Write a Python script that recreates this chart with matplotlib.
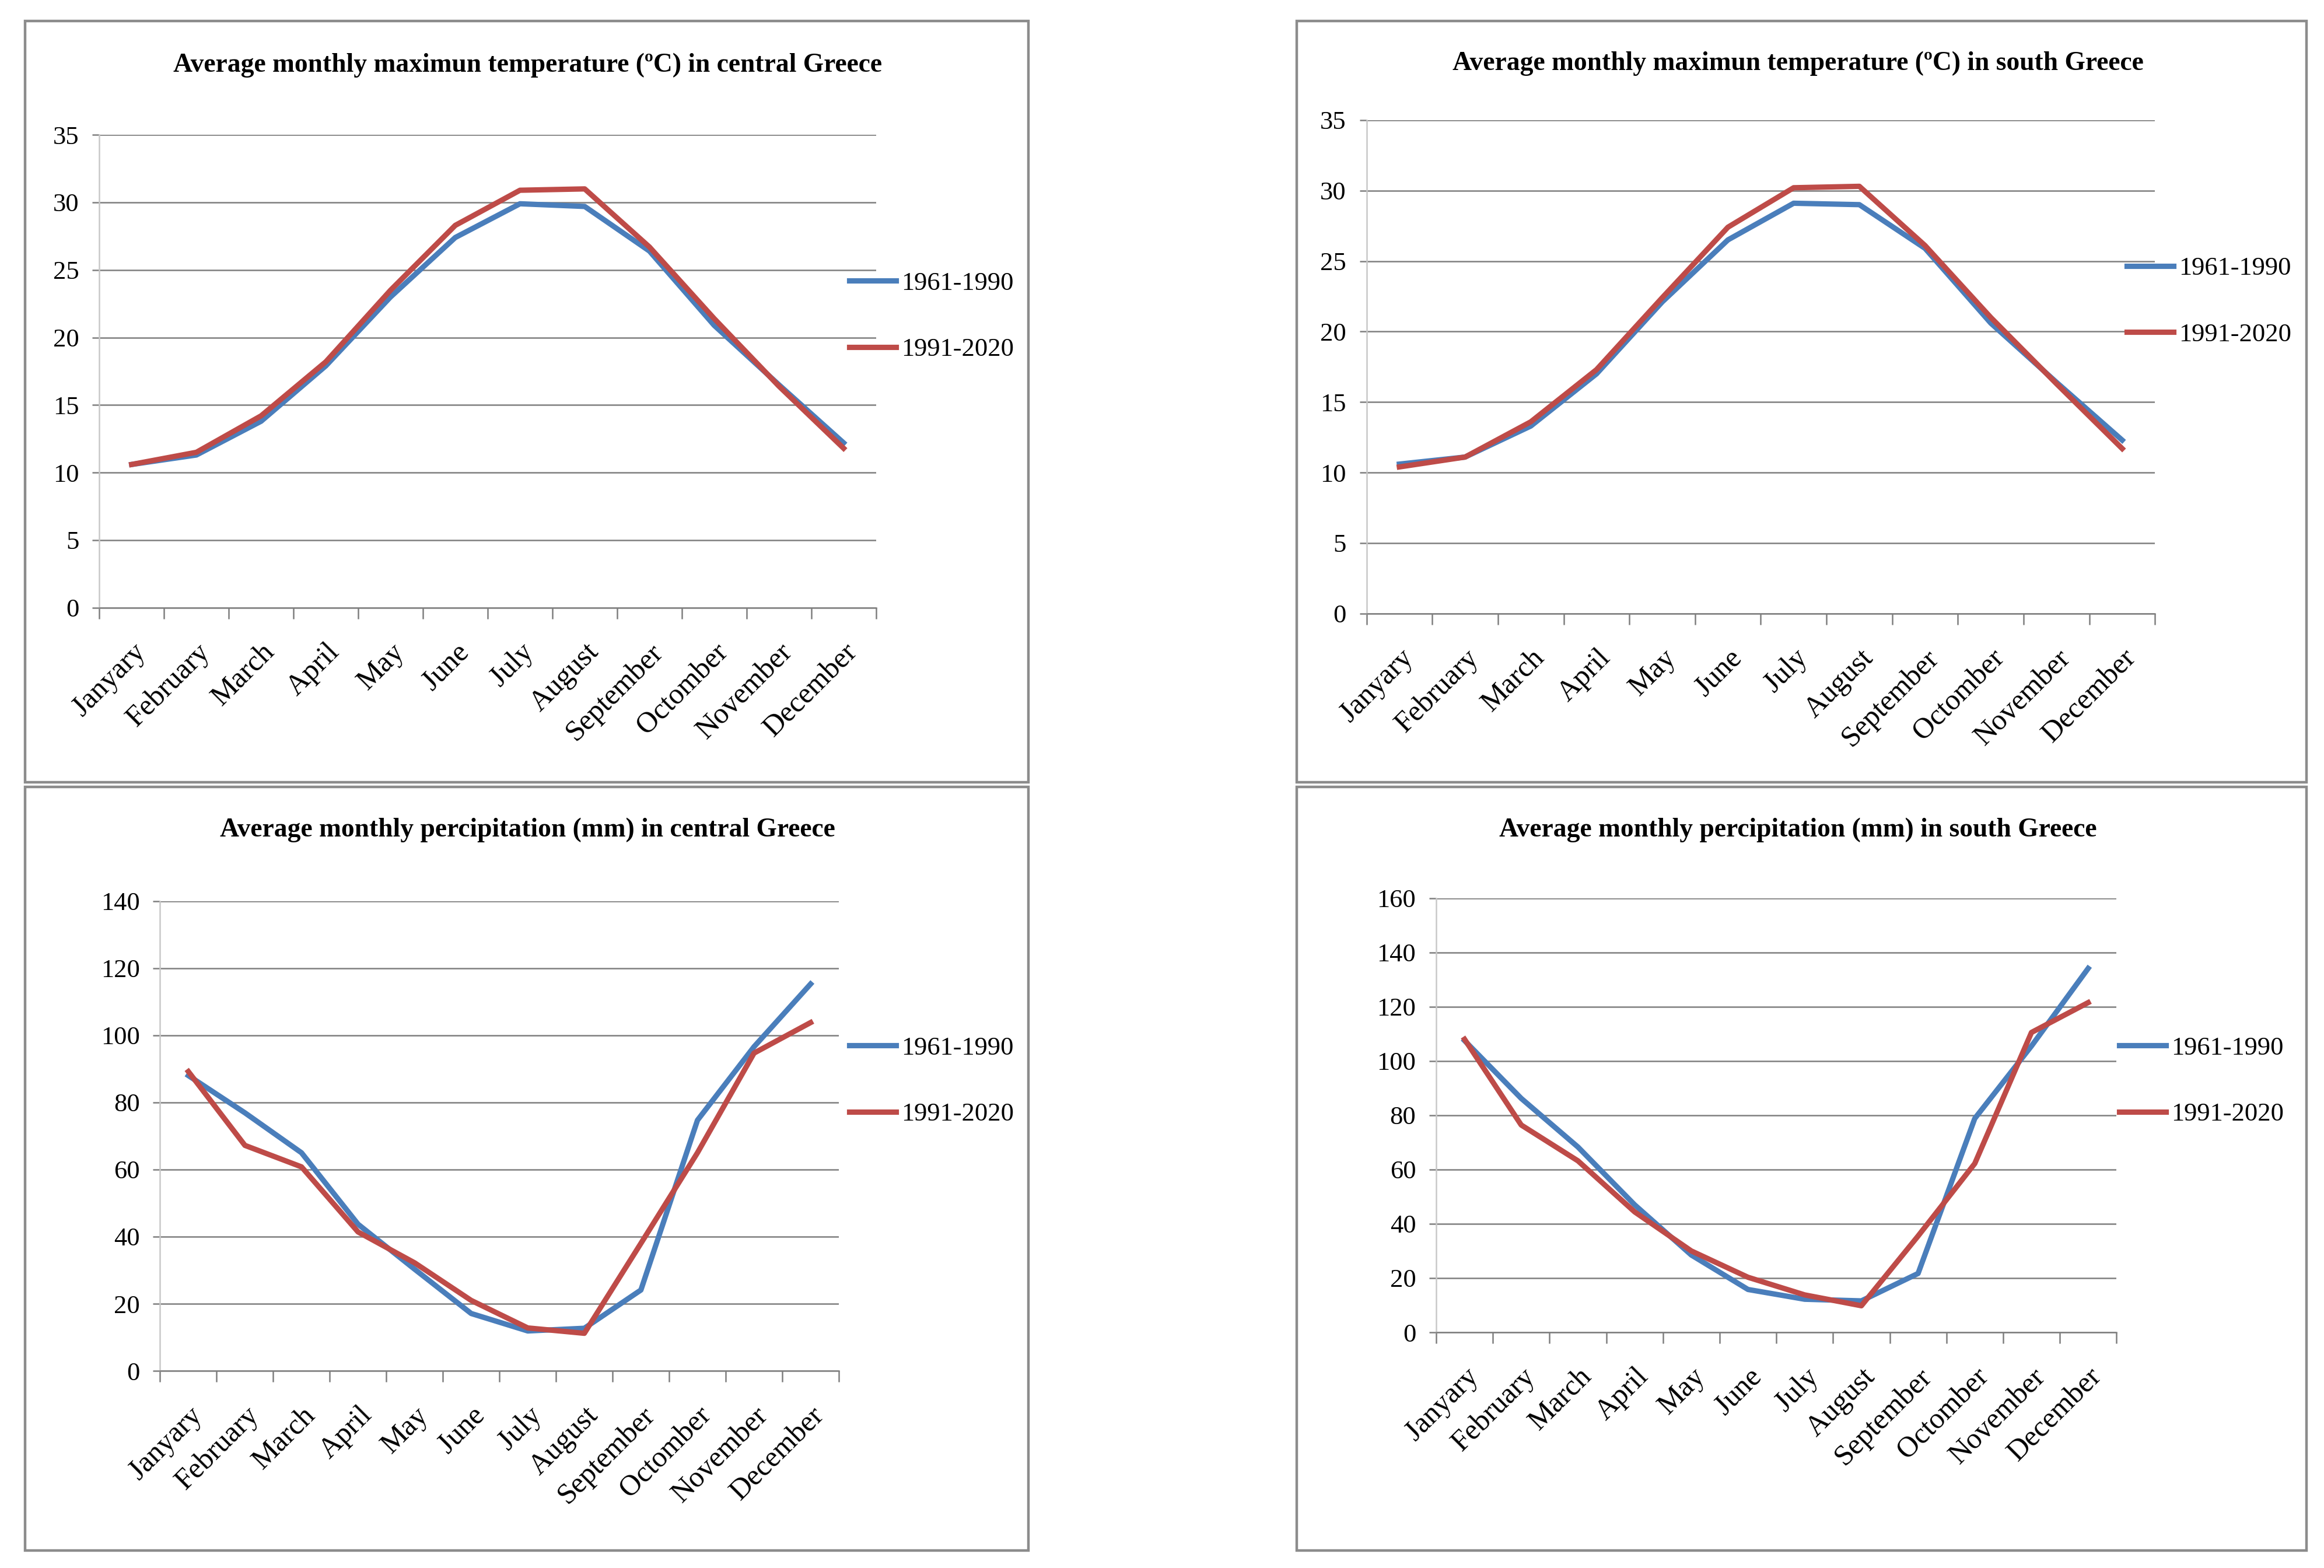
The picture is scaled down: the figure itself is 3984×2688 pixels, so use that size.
import matplotlib
matplotlib.use("Agg")
import matplotlib.pyplot as plt
from matplotlib.patches import Rectangle
from matplotlib.ticker import MultipleLocator, FixedLocator

plt.rcParams['font.family'] = ['Liberation Serif', 'DejaVu Serif']

months = ["Janyary", "February", "March", "April", "May", "June", "July",
          "August", "September", "Octomber", "November", "December"]
labels = ["1961-1990", "1991-2020"]

temp_central_6190 = [10.6, 11.3, 13.8, 17.9, 23.0, 27.4, 29.9, 29.7, 26.4, 20.9, 16.5, 12.2]
temp_central_9120 = [10.6, 11.5, 14.2, 18.2, 23.5, 28.3, 30.9, 31.0, 26.7, 21.4, 16.4, 11.8]
temp_south_6190 = [10.6, 11.1, 13.3, 17.0, 22.1, 26.5, 29.1, 29.0, 25.9, 20.6, 16.4, 12.3]
temp_south_9120 = [10.4, 11.1, 13.6, 17.3, 22.4, 27.4, 30.2, 30.3, 26.1, 21.0, 16.3, 11.7]
prec_central_6190 = [88.0, 76.9, 65.0, 43.7, 30.3, 17.1, 11.9, 12.7, 24.1, 74.7, 96.6, 115.3]
prec_central_9120 = [89.2, 67.2, 60.8, 41.4, 32.2, 21.0, 12.8, 11.2, 38.0, 65.0, 94.7, 103.8]
prec_south_6190 = [107.5, 86.2, 68.3, 47.0, 28.5, 15.8, 12.2, 11.6, 21.7, 78.8, 105.5, 134.1]
prec_south_9120 = [108.0, 76.4, 63.2, 44.4, 30.0, 20.3, 13.8, 9.8, 35.5, 62.2, 110.5, 121.5]

titles = ["Average monthly maximun temperature (ºC) in central Greece",
          "Average monthly maximun temperature (ºC) in south Greece",
          "Average monthly percipitation (mm) in central Greece",
          "Average monthly percipitation (mm) in south Greece"]

BLUE = "#4A7EBB"
RED = "#BE4B48"
GRID = "#7F7F7F"

W, H = 1568.0, 1058.0
fig = plt.figure(figsize=(19.92, 13.44), dpi=200)
fig.patch.set_facecolor("white")

def fx(x):
    return x / W

def fy(y):
    return 1 - y / H

panels = [
    dict(box=(17, 14, 694, 528), ax=(67, 91, 591, 410), ylim=35, step=5,
         data=(temp_central_6190, temp_central_9120), title=(356, 44), leg=(573, 213.5)),
    dict(box=(875, 14, 1556, 528), ax=(922, 81, 1454, 414), ylim=35, step=5,
         data=(temp_south_6190, temp_south_9120), title=(1213, 43), leg=(1435, 203.5)),
    dict(box=(17, 531, 694, 1046), ax=(108, 608, 566, 925), ylim=140, step=20,
         data=(prec_central_6190, prec_central_9120), title=(356, 560), leg=(573, 729.5)),
    dict(box=(875, 531, 1556, 1046), ax=(969, 606, 1428, 899), ylim=160, step=20,
         data=(prec_south_6190, prec_south_9120), title=(1213, 560), leg=(1430, 729.5)),
]

x = list(range(12))
for i, p in enumerate(panels):
    bx0, by0, bx1, by1 = p["box"]
    fig.patches.append(Rectangle((fx(bx0), fy(by1)), fx(bx1) - fx(bx0), fy(by0) - fy(by1),
                                 transform=fig.transFigure, fill=False,
                                 edgecolor="#8C8C8C", linewidth=1.6, zorder=0))
    ax0, ay0, ax1, ay1 = p["ax"]
    ax = fig.add_axes([fx(ax0), fy(ay1), fx(ax1) - fx(ax0), fy(ay0) - fy(ay1)])
    d1, d2 = p["data"]
    l1, = ax.plot(x, d1, color=BLUE, lw=3.3, label=labels[0], zorder=3, solid_joinstyle="round")
    l2, = ax.plot(x, d2, color=RED, lw=3.3, label=labels[1], zorder=4, solid_joinstyle="round")
    ax.set_xlim(-0.5, 11.5)
    ax.set_ylim(0, p["ylim"])
    ax.yaxis.set_major_locator(MultipleLocator(p["step"]))
    ax.grid(axis="y", color=GRID, lw=0.9)
    ax.set_axisbelow(True)
    for s in ("top", "right"):
        ax.spines[s].set_visible(False)
    ax.spines["left"].set_color("#C8C8C8")
    ax.spines["left"].set_linewidth(0.9)
    ax.spines["bottom"].set_color(GRID)
    ax.spines["bottom"].set_linewidth(0.9)
    ax.set_xticks(x)
    ax.set_xticklabels(months, rotation=45, ha="right", rotation_mode="anchor", fontsize=18)
    ax.xaxis.set_minor_locator(FixedLocator([k - 0.5 for k in range(13)]))
    ax.tick_params(axis="x", which="major", length=0, pad=19)
    ax.tick_params(axis="x", which="minor", length=7, width=0.9, color=GRID)
    ax.tick_params(axis="y", length=4.5, width=0.9, color=GRID, pad=8, labelsize=16)
    tx, ty = p["title"]
    fig.text(fx(tx), fy(ty), titles[i], ha="center", va="center",
             fontsize=16.4, fontweight="bold")
    lx, ly = p["leg"]
    ax.legend(handles=[l1, l2], loc="center left", bbox_to_anchor=(fx(lx), fy(ly)),
              bbox_transform=fig.transFigure, frameon=False, fontsize=16,
              handlelength=1.8, handletextpad=0.2, labelspacing=1.65,
              borderpad=0, borderaxespad=0)

fig.savefig("out.png", dpi=200, facecolor="white")
